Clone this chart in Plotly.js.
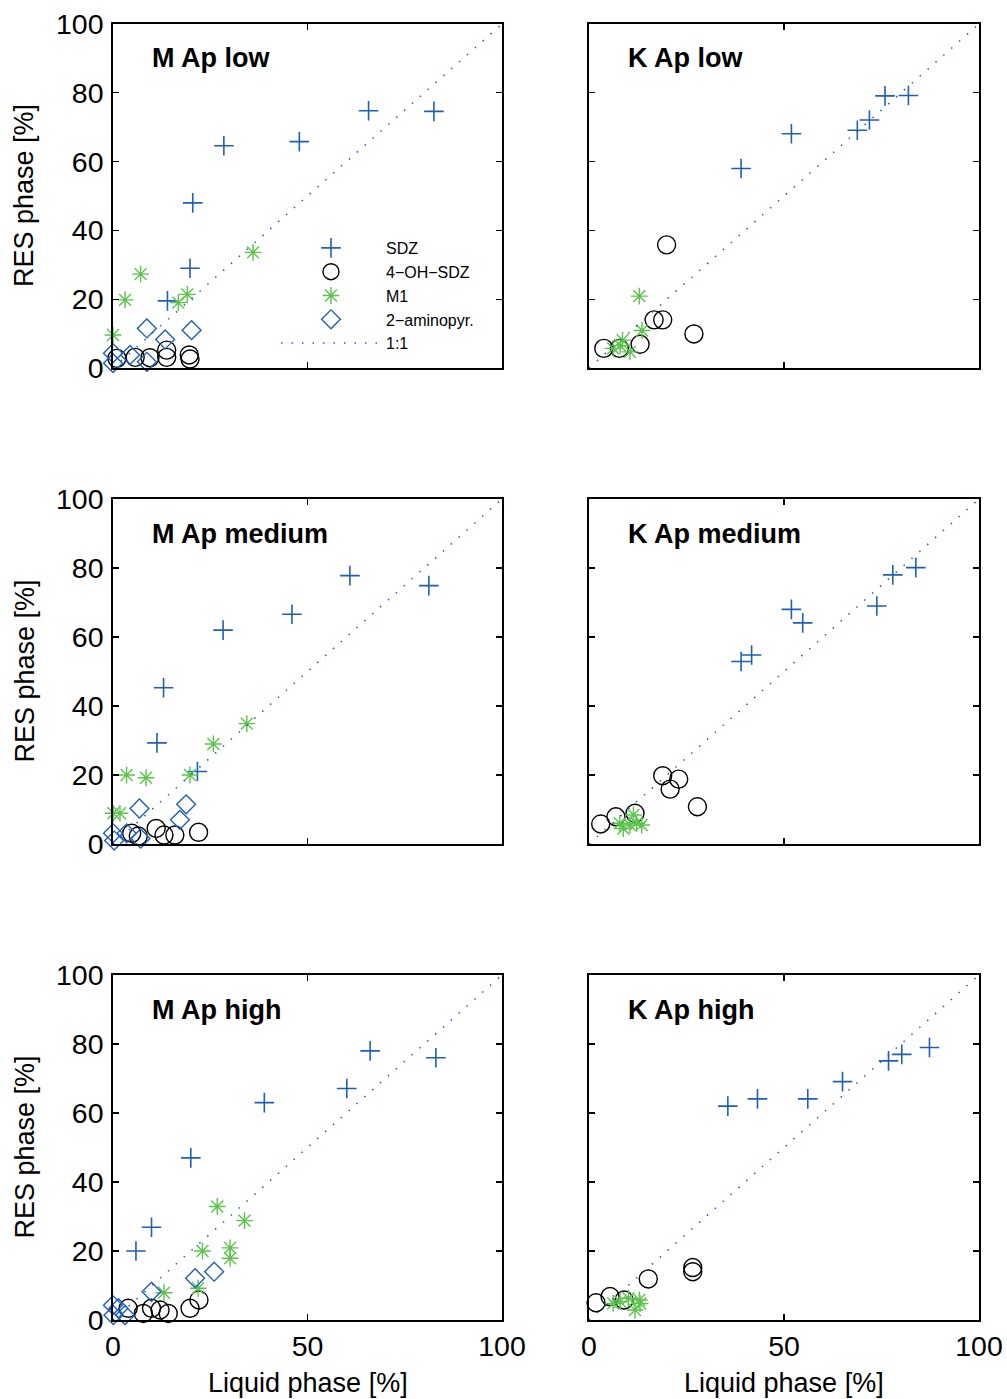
<!DOCTYPE html>
<html>
<head>
<meta charset="utf-8">
<script src="https://cdn.plot.ly/plotly-3.0.1.min.js"></script>
<style>html,body{margin:0;padding:0;background:#fff;}#chart{width:1007px;height:1399px;}</style>
</head>
<body>
<div id="chart"></div>
<script>
// ---------- DATA ----------
const SERIES_NAMES = ["SDZ", "4\u2212OH\u2212SDZ", "M1", "2\u2212aminopyr.", "1:1"];
const PANEL_TITLES = ["M Ap low", "K Ap low", "M Ap medium", "K Ap medium", "M Ap high", "K Ap high"];
const X_TICKS = [0, 50, 100];
const Y_TICKS = [0, 20, 40, 60, 80, 100];
const ONE_TO_ONE = [0, 100];

// M Ap low
const M_LOW_SDZ_X = [28.5, 47.9, 65.7, 82.5, 20.5, 19.8, 14.0];
const M_LOW_SDZ_Y = [64.6, 65.8, 74.8, 74.6, 48.0, 29.0, 19.5];
const M_LOW_OH_X = [1.0, 5.7, 9.5, 13.8, 13.8, 19.6, 19.8];
const M_LOW_OH_Y = [2.8, 3.1, 3.0, 5.2, 3.1, 3.8, 2.6];
const M_LOW_M1_X = [36.0, 7.1, 3.1, 16.8, 19.1, 0.0];
const M_LOW_M1_Y = [33.6, 27.3, 19.8, 19.0, 21.4, 9.6];
const M_LOW_AP_X = [8.7, 20.2, 13.4, 0.0, 0.0, 4.4, 8.7];
const M_LOW_AP_Y = [11.5, 11.0, 8.3, 4.3, 1.4, 3.8, 1.8];

// K Ap low
const K_LOW_SDZ_X = [39.0, 51.9, 68.8, 71.9, 75.9, 81.9];
const K_LOW_SDZ_Y = [58.0, 68.1, 69.1, 72.1, 79.1, 79.2];
const K_LOW_OH_X = [19.9, 16.7, 18.9, 26.9, 3.8, 7.8, 13.1];
const K_LOW_OH_Y = [35.8, 14.0, 14.0, 9.9, 5.7, 5.7, 6.9];
const K_LOW_M1_X = [12.9, 13.6, 8.6, 6.2, 10.5, 8.0];
const K_LOW_M1_Y = [20.9, 10.9, 8.1, 5.7, 4.7, 6.5];
const K_LOW_AP_X = [];
const K_LOW_AP_Y = [];

// M Ap medium
const M_MED_SDZ_X = [60.9, 81.2, 46.0, 28.3, 13.0, 11.3, 21.7];
const M_MED_SDZ_Y = [77.8, 74.9, 66.6, 62.0, 45.3, 29.3, 21.0];
const M_MED_OH_X = [4.8, 6.5, 11.1, 13.1, 15.9, 22.0];
const M_MED_OH_Y = [3.1, 2.3, 4.5, 2.6, 2.6, 3.4];
const M_MED_M1_X = [34.4, 25.8, 3.5, 8.5, 19.8, 0.1, 1.8];
const M_MED_M1_Y = [34.9, 29.0, 20.0, 19.2, 20.0, 8.9, 8.9];
const M_MED_AP_X = [0.0, 3.5, 7.1, 6.8, 18.8, 17.2, 0.3];
const M_MED_AP_Y = [3.1, 3.1, 1.6, 10.3, 11.5, 7.0, 1.0];

// K Ap medium
const K_MED_SDZ_X = [83.8, 77.9, 73.8, 51.9, 54.8, 39.0, 41.7];
const K_MED_SDZ_Y = [80.1, 78.0, 69.0, 68.0, 64.1, 52.9, 54.8];
const K_MED_OH_X = [18.9, 23.0, 20.8, 27.8, 3.0, 6.9, 11.8];
const K_MED_OH_Y = [19.8, 18.8, 15.9, 10.8, 5.8, 7.9, 8.9];
const K_MED_M1_X = [7.9, 10.5, 12.2, 11.4, 8.8, 13.5];
const K_MED_M1_Y = [6.0, 5.5, 6.0, 8.4, 4.5, 5.5];
const K_MED_AP_X = [];
const K_MED_AP_Y = [];

// M Ap high
const M_HIGH_SDZ_X = [66.1, 83.0, 60.1, 38.9, 20.0, 9.9, 5.9];
const M_HIGH_SDZ_Y = [78.0, 76.0, 67.1, 63.0, 47.0, 26.9, 20.0];
const M_HIGH_OH_X = [3.9, 7.8, 9.9, 12.1, 14.2, 19.8, 22.1];
const M_HIGH_OH_Y = [3.4, 1.9, 3.4, 2.9, 1.9, 3.4, 5.8];
const M_HIGH_M1_X = [26.8, 33.8, 23.0, 30.1, 30.1, 13.1, 21.9];
const M_HIGH_M1_Y = [32.9, 28.8, 20.0, 20.9, 17.9, 7.9, 9.2];
const M_HIGH_AP_X = [0.0, 0.1, 3.1, 9.9, 21.1, 26.0, 1.4];
const M_HIGH_AP_Y = [4.3, 1.4, 1.4, 8.2, 12.1, 14.0, 3.4];

// K Ap high
const K_HIGH_SDZ_X = [87.3, 80.2, 76.8, 65.0, 56.1, 43.2, 35.6];
const K_HIGH_SDZ_Y = [79.0, 77.0, 75.1, 69.1, 64.1, 64.1, 62.0];
const K_HIGH_OH_X = [26.6, 26.6, 15.2, 1.8, 5.4, 9.0];
const K_HIGH_OH_Y = [15.2, 14.0, 11.9, 5.0, 6.8, 5.8];
const K_HIGH_M1_X = [12.9, 11.8, 10.1, 6.2, 8.0, 13.1];
const K_HIGH_M1_Y = [5.8, 2.9, 6.3, 4.8, 5.3, 4.8];
const K_HIGH_AP_X = [];
const K_HIGH_AP_Y = [];

// ---------- STYLE ----------
const BLUE = '#1f5fb8';
const GREEN = '#5cc44c';
const FONT = 'Liberation Sans, Arial, sans-serif';

const panels = [
  {sdz:[M_LOW_SDZ_X, M_LOW_SDZ_Y], oh:[M_LOW_OH_X, M_LOW_OH_Y], m1:[M_LOW_M1_X, M_LOW_M1_Y], ap:[M_LOW_AP_X, M_LOW_AP_Y]},
  {sdz:[K_LOW_SDZ_X, K_LOW_SDZ_Y], oh:[K_LOW_OH_X, K_LOW_OH_Y], m1:[K_LOW_M1_X, K_LOW_M1_Y], ap:[K_LOW_AP_X, K_LOW_AP_Y]},
  {sdz:[M_MED_SDZ_X, M_MED_SDZ_Y], oh:[M_MED_OH_X, M_MED_OH_Y], m1:[M_MED_M1_X, M_MED_M1_Y], ap:[M_MED_AP_X, M_MED_AP_Y]},
  {sdz:[K_MED_SDZ_X, K_MED_SDZ_Y], oh:[K_MED_OH_X, K_MED_OH_Y], m1:[K_MED_M1_X, K_MED_M1_Y], ap:[K_MED_AP_X, K_MED_AP_Y]},
  {sdz:[M_HIGH_SDZ_X, M_HIGH_SDZ_Y], oh:[M_HIGH_OH_X, M_HIGH_OH_Y], m1:[M_HIGH_M1_X, M_HIGH_M1_Y], ap:[M_HIGH_AP_X, M_HIGH_AP_Y]},
  {sdz:[K_HIGH_SDZ_X, K_HIGH_SDZ_Y], oh:[K_HIGH_OH_X, K_HIGH_OH_Y], m1:[K_HIGH_M1_X, K_HIGH_M1_Y], ap:[K_HIGH_AP_X, K_HIGH_AP_Y]}
];

const W = 1007, H = 1399;
const colPx = [[113, 502], [589, 979]];
const rowPx = [[24, 368], [499, 844], [975, 1320]];

const traces = [];
const layout = {
  width: W, height: H,
  margin: {l: 0, r: 0, t: 0, b: 0},
  paper_bgcolor: '#fff', plot_bgcolor: '#fff',
  showlegend: true,
  font: {family: FONT, color: '#000'},
  legend: {
    x: 276 / W, y: 1 - 231 / H, xanchor: 'left', yanchor: 'top',
    bgcolor: 'rgba(0,0,0,0)', borderwidth: 0,
    font: {family: FONT, size: 16, color: '#000'},
    itemwidth: 100, tracegroupgap: 0
  },
  annotations: []
};

panels.forEach((p, i) => {
  const row = Math.floor(i / 2), col = i % 2;
  const n = i + 1;
  const xa = n === 1 ? 'x' : 'x' + n;
  const ya = n === 1 ? 'y' : 'y' + n;
  const xk = n === 1 ? 'xaxis' : 'xaxis' + n;
  const yk = n === 1 ? 'yaxis' : 'yaxis' + n;
  const first = i === 0;
  const common = {xaxis: xa, yaxis: ya, mode: 'markers', type: 'scatter', cliponaxis: false, showlegend: first};
  traces.push(Object.assign({}, common, {x: p.sdz[0], y: p.sdz[1], name: SERIES_NAMES[0],
    marker: {symbol: 'cross-thin-open', size: 14, color: BLUE, line: {color: BLUE, width: 1.6}}}));
  traces.push(Object.assign({}, common, {x: p.oh[0], y: p.oh[1], name: SERIES_NAMES[1],
    marker: {symbol: 'circle-open', size: 18, color: '#000', line: {color: '#000', width: 1.4}}}));
  traces.push(Object.assign({}, common, {x: p.m1[0], y: p.m1[1], name: SERIES_NAMES[2],
    marker: {symbol: 'asterisk-open', size: 14, color: GREEN, line: {color: GREEN, width: 1.4}}}));
  traces.push(Object.assign({}, common, {x: p.ap[0], y: p.ap[1], name: SERIES_NAMES[3],
    marker: {symbol: 'diamond-open', size: 14.5, color: BLUE, line: {color: BLUE, width: 1.4}}}));
  traces.push({xaxis: xa, yaxis: ya, type: 'scatter', mode: 'lines', x: ONE_TO_ONE, y: ONE_TO_ONE,
    name: SERIES_NAMES[4], showlegend: first,
    line: {color: BLUE, width: 1.5, dash: '1.5px,9px'}});

  const xd = colPx[col], yd = rowPx[row];
  layout[xk] = {
    domain: [xd[0] / W, xd[1] / W], range: [0, 100], anchor: ya,
    tickmode: 'array', tickvals: X_TICKS, ticktext: X_TICKS.map(String),
    showticklabels: row === 2, ticks: 'inside', ticklen: 6, tickwidth: 1.2, tickcolor: '#000',
    showline: true, linecolor: '#000', linewidth: 1.8, mirror: 'allticks',
    showgrid: false, zeroline: false, fixedrange: true, ticklabelstandoff: 0,
    tickfont: {family: FONT, size: 28.5, color: '#000'}
  };
  layout[yk] = {
    domain: [1 - yd[1] / H, 1 - yd[0] / H], range: [0, 100], anchor: xa,
    tickmode: 'array', tickvals: Y_TICKS, ticktext: Y_TICKS.map(String),
    showticklabels: col === 0, ticks: 'inside', ticklen: 6, tickwidth: 1.2, tickcolor: '#000',
    showline: true, linecolor: '#000', linewidth: 1.8, mirror: 'allticks',
    showgrid: false, zeroline: false, fixedrange: true, ticklabelstandoff: 2,
    tickfont: {family: FONT, size: 28.5, color: '#000'}
  };
  layout.annotations.push({xref: xa, yref: ya, x: 9.6, y: 90, xanchor: 'left', yanchor: 'middle',
    text: '<b>' + PANEL_TITLES[i] + '</b>', showarrow: false, font: {family: FONT, size: 27, color: '#000'}});
  if (col === 0) {
    layout.annotations.push({xref: 'paper', yref: 'paper', x: 24 / W, y: 1 - (yd[0] + yd[1]) / 2 / H,
      xanchor: 'center', yanchor: 'middle', textangle: -90, text: 'RES phase [%]', showarrow: false,
      font: {family: FONT, size: 27, color: '#000'}});
  }
  if (row === 2) {
    layout.annotations.push({xref: 'paper', yref: 'paper', x: (xd[0] + xd[1]) / 2 / W, y: 1 - 1383 / H,
      xanchor: 'center', yanchor: 'middle', text: 'Liquid phase [%]', showarrow: false,
      font: {family: FONT, size: 27, color: '#000'}});
  }
});

Plotly.newPlot('chart', traces, layout, {staticPlot: true, displayModeBar: false});
</script>
</body>
</html>
